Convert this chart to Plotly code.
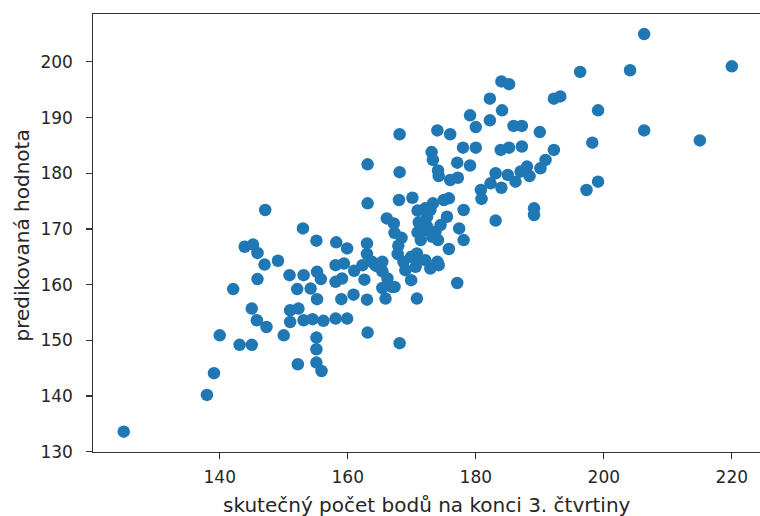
import plotly.graph_objects as go

actual = [
    125, 138, 139.1, 140, 142.1, 143.1, 145, 143.9, 145.2, 145.9, 147.1, 147, 149.1, 145.9, 145, 145.8, 147.3,
    150, 152.2, 153, 155.1, 158.2, 159.9, 150.9, 153.1, 155.2, 155.8, 152.1, 154.2, 155.2, 151.0, 152.3, 151.0,
    153.1, 154.5, 156.2, 158.1, 159.9, 155.1, 155.1, 155.1, 155.9, 158.1, 159.4, 158.1, 159.1, 159.0, 160.9,
    161.0, 162.3, 164.3, 162.6, 163.0, 163.0, 163.0, 163.8, 164.6, 165.4, 166.2, 166.9, 165.4, 165.9, 167.3,
    165.4, 163.1, 163.1, 163.1, 168.1, 168.1, 168.1,
    166.1, 167.2, 167.3, 168.4, 167.9, 167.8, 168.7, 169.0, 169.9, 170.8, 170.8, 170.6, 172.1, 174.0,
    169.9, 170.8, 172.9, 174.2, 177.1, 168.0, 170.1, 173.3, 175.0, 175.8, 172.1, 170.9, 172.9, 171.1,
    172.4, 172.4, 170.9, 172.1, 173.2, 171.4, 174.1, 173.7, 174.5, 175.5, 177.4, 175.8, 178.1, 178.1,
    180.8, 180.9, 183.1,
    174.0, 176.0, 178.0, 180.0, 173.1, 173.3, 174.1, 174.2, 176.0, 177.2, 177.1, 179.1, 179.1, 180.0, 182.2,
    182.2, 184.1, 184.0, 185.2, 183.9, 185.2, 187.2, 185.9, 187.2, 190.0, 192.2, 193.2, 199.1, 196.3, 204.1,
    206.3, 220.0, 206.3, 198.2, 215.0, 192.2, 190.9, 190.1, 188.0, 188.4, 187.0, 183.1, 185.0, 186.2, 182.3,
    184.0, 199.1, 197.3, 189.1, 189.1,
]

predicted = [
    133.6, 140.2, 144.1, 150.9, 159.2, 149.2, 149.2, 166.8, 167.2, 165.7, 173.4, 163.6, 164.3, 161.0, 155.7, 153.6, 152.4,
    150.9, 145.7, 170.1, 167.9, 167.6, 166.5, 161.7, 161.7, 162.3, 161.0, 159.2, 159.3, 157.4, 155.4, 155.7, 153.3,
    153.6, 153.8, 153.5, 153.9, 153.9, 150.5, 148.4, 146.0, 144.5, 163.5, 163.8, 160.5, 161.1, 157.4, 158.2,
    162.5, 163.5, 163.5, 160.9, 157.3, 167.4, 165.5, 164.1, 163.3, 162.4, 161.1, 159.6, 159.4, 157.5, 159.6,
    164.1, 181.6, 174.6, 151.4, 149.5, 187.0, 180.2,
    171.9, 171.0, 169.3, 168.4, 167.0, 165.5, 164.1, 162.6, 165.0, 165.6, 164.4, 163.2, 164.4, 164.1,
    160.8, 157.5, 162.9, 163.5, 160.3, 175.2, 175.6, 174.6, 175.2, 175.5, 173.7, 173.3, 173.4, 171.2,
    172.2, 170.4, 169.4, 169.8, 168.6, 168.0, 168.0, 169.5, 170.7, 172.2, 170.1, 166.4, 168.0, 173.4,
    177.0, 175.4, 171.5,
    187.7, 187.0, 184.6, 184.6, 183.8, 182.4, 180.5, 179.5, 178.8, 179.2, 181.9, 181.4, 190.4, 188.3, 189.5,
    193.4, 191.3, 196.5, 196.0, 184.2, 184.6, 184.8, 188.5, 188.5, 187.4, 193.4, 193.8, 191.3, 198.2, 198.5,
    205.0, 199.2, 187.7, 185.5, 185.9, 184.2, 182.4, 180.9, 181.2, 179.5, 180.3, 180.0, 179.7, 178.5, 178.2,
    177.4, 178.5, 177.0, 173.7, 172.5,
]

x_ticks = [140, 160, 180, 200, 220]
y_ticks = [130, 140, 150, 160, 170, 180, 190, 200]

x_label = "skutečný počet bodů na konci 3. čtvrtiny"
y_label = "predikovaná hodnota"

TXT = "#262626"
FONT = "DejaVu Sans"

fig = go.Figure()
fig.add_trace(go.Scatter(
    x=actual, y=predicted, mode="markers",
    marker=dict(color="#1f77b4", size=12.5, line=dict(width=0)),
    hoverinfo="skip",
))

axis_common = dict(
    showgrid=False, zeroline=False, showline=True, linecolor="#333333", linewidth=1.2,
    ticks="outside", ticklen=5.5, tickwidth=1.2, tickcolor="#333333",
    tickfont=dict(family=FONT, size=17, color=TXT), automargin=False,
)

fig.update_layout(
    width=760, height=516,
    margin=dict(l=93, r=0, t=14, b=64),
    paper_bgcolor="white", plot_bgcolor="white",
    showlegend=False,
    xaxis=dict(range=[120.2, 224.4], tickvals=x_ticks, ticktext=[str(v) for v in x_ticks],
               ticklabelstandoff=4, mirror=True, **axis_common),
    yaxis=dict(range=[129.95, 208.6], tickvals=y_ticks, ticktext=[str(v) for v in y_ticks],
               ticklabelstandoff=10, mirror=False, **axis_common),
    annotations=[
        dict(text=x_label, xref="paper", yref="paper", x=0.5, y=0, xanchor="center", yanchor="middle",
             yshift=-53, showarrow=False, font=dict(family=FONT, size=20, color=TXT)),
        dict(text=y_label, xref="paper", yref="paper", x=0, y=0.5, xanchor="center", yanchor="middle",
             xshift=-71.5, yshift=-3, textangle=-90, showarrow=False, font=dict(family=FONT, size=20, color=TXT)),
    ],
)

# remove the default page margin so the figure fills the 760x516 window exactly
fig.write_html(
    "out.html",
    config={"displayModeBar": False, "staticPlot": True},
    post_script="document.body.style.margin='0';document.body.style.overflow='hidden';",
)
